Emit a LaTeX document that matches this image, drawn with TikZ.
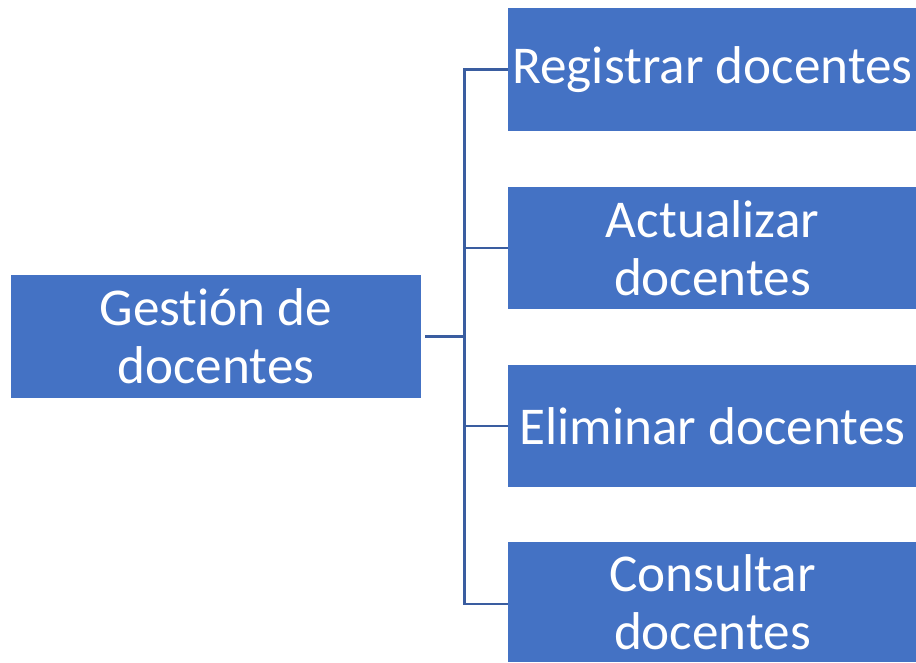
\documentclass[tikz,border=0pt]{standalone}
\usepackage{fontspec}
\setmainfont[Ligatures={NoCommon,NoContextual},RawFeature={-liga;-clig;-calt}]{Carlito}
\definecolor{boxblue}{HTML}{4472C4}
\definecolor{lineblue}{HTML}{3A5DA0}
\begin{document}
\begin{tikzpicture}[x=1pt,y=-1pt,
  blk/.style={fill=boxblue,draw=none,text=white,minimum width=409pt,minimum height=122.5pt,
    inner sep=0pt,align=center,font=\fontsize{53.2}{58}\selectfont},
  conn/.style={draw=lineblue,line width=2.6pt}]
\useasboundingbox (0,0) rectangle (916,662);
\node[blk,minimum width=410pt] (root) at (216,336.5) {Gest\kern0pt ión de\\docentes};
\node[blk] (c1) at (712.5,69.5) {Registrar docentes};
\node[blk] (c2) at (712.5,248) {Actualizar\\docentes};
\node[blk] (c3) at (712.5,426) {Eliminar docentes};
\node[blk,minimum height=119.6pt] (c4) at (712.5,602.2) {Consultar\\docentes};
\coordinate (j) at (464.5,336.5);
\draw[conn] ([xshift=4pt]root.east) -- (j);
\draw[conn] (c1.west) -| (j);
\draw[conn] ([yshift=-1.8pt]c4.west) -| (j);
\draw[conn] (c2.west) -- (c2.west -| j);
\draw[conn] (c3.west) -- (c3.west -| j);
\end{tikzpicture}
\end{document}
